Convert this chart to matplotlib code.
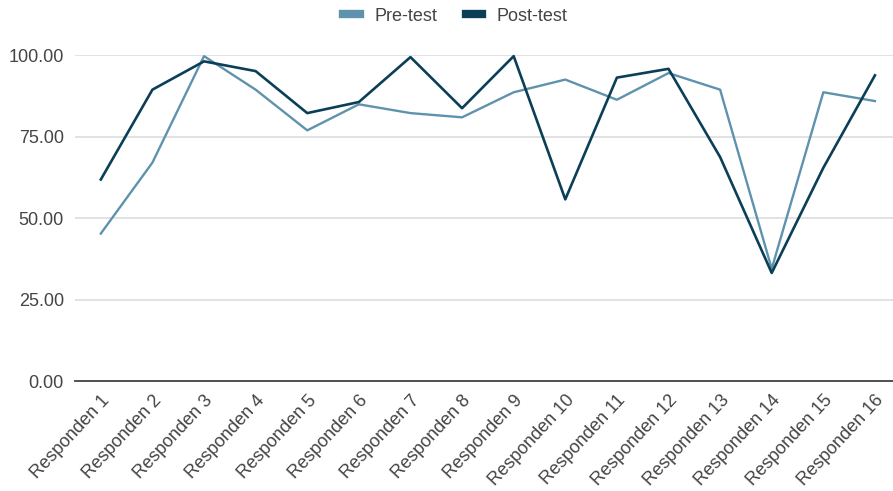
import numpy as np
import matplotlib.pyplot as plt

plt.rcParams["font.family"] = ["Liberation Sans", "DejaVu Sans"]

labels = [f"Responden {i}" for i in range(1, 17)]
pre_test = [45.3, 67.1, 99.8, 89.5, 77.0, 85.0, 82.3, 81.0,
            88.7, 92.6, 86.4, 94.6, 89.5, 34.5, 88.7, 86.0]
post_test = [61.9, 89.5, 98.2, 95.2, 82.3, 85.7, 99.5, 83.8,
             99.8, 55.8, 93.2, 95.9, 68.8, 33.2, 65.5, 93.9]

PRE_COLOR = "#5f93ad"
POST_COLOR = "#0b3f57"

fig = plt.figure(figsize=(8.93, 4.91), dpi=100)
ax = fig.add_axes([0.084, 0.224, 0.916, 0.663])

x = np.arange(len(labels))
ax.plot(x, pre_test, color=PRE_COLOR, linewidth=1.7, label="Pre-test", clip_on=False, zorder=3)
ax.plot(x, post_test, color=POST_COLOR, linewidth=1.9, label="Post-test", clip_on=False, zorder=4)

ax.set_xlim(-0.5, 15.35)
ax.set_ylim(0, 100)
ax.set_yticks([0, 25, 50, 75, 100])
ax.set_yticklabels([f"{v:.2f}" for v in [0, 25, 50, 75, 100]])
ax.set_xticks(x)
ax.set_xticklabels(labels, rotation=47, ha="right", rotation_mode="anchor")

ax.grid(axis="y", color="#dddddd", linewidth=1.2)
ax.set_axisbelow(True)
for side in ["top", "right", "left"]:
    ax.spines[side].set_visible(False)
ax.spines["bottom"].set_color("#444444")
ax.spines["bottom"].set_linewidth(1.3)
ax.tick_params(axis="both", length=0, labelsize=13, colors="#444444", pad=8)
ax.tick_params(axis="x", pad=8)

fig.legend(loc="center", bbox_to_anchor=(0.51, 0.967), ncol=2, frameon=False,
           fontsize=13, handlelength=0.9, handletextpad=0.8, columnspacing=1.6,
           labelcolor="#444444")
for line in fig.legends[0].get_lines():
    line.set_linewidth(6)

fig.savefig("out.png", dpi=100)
